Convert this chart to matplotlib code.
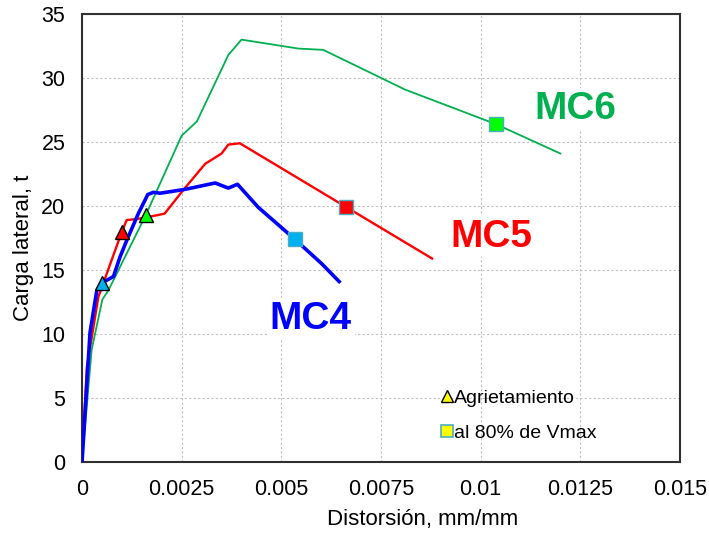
import matplotlib
matplotlib.use("Agg")
import matplotlib.pyplot as plt
from matplotlib.lines import Line2D

plt.rcParams["font.family"] = ["Liberation Sans", "DejaVu Sans"]

# Curvas carga lateral vs distorsion
mc4_x = [0, 0.0002, 0.00037, 0.0005, 0.00062, 0.00079, 0.00095, 0.00112, 0.00141, 0.00165,
         0.00179, 0.00196, 0.00258, 0.00334, 0.00367, 0.0039, 0.00442, 0.00534, 0.00601, 0.00645]
mc4_y = [0, 10.1, 13.4, 14.0, 14.2, 14.5, 16.0, 17.3, 19.4, 20.9,
         21.07, 21.0, 21.3, 21.8, 21.4, 21.7, 19.9, 17.4, 15.5, 14.1]

mc5_x = [0, 0.00012, 0.00041, 0.001, 0.00112, 0.00141, 0.00175, 0.00207, 0.00254, 0.00309,
         0.0035, 0.00367, 0.00396, 0.00661, 0.00878]
mc5_y = [0, 7.4, 12.9, 18.0, 18.9, 19.0, 19.2, 19.4, 21.25, 23.3,
         24.1, 24.8, 24.9, 19.95, 15.9]

mc6_x = [0, 0.00024, 0.00051, 0.00066, 0.0016, 0.0025, 0.00288, 0.00367, 0.004, 0.00543,
         0.00605, 0.0081, 0.01038, 0.012]
mc6_y = [0, 8.75, 12.7, 13.4, 19.3, 25.5, 26.6, 31.8, 33.0, 32.3,
         32.2, 29.1, 26.4, 24.1]

# Agrietamiento (triangulos) y 80% de Vmax (cuadrados)
crack_x = [0.0005, 0.001, 0.0016]
crack_y = [14.0, 18.0, 19.3]
v80_x = [0.00534, 0.00661, 0.01038]
v80_y = [17.4, 19.95, 26.4]

line_colors = ["#0000FF", "#FF0000", "#00B050"]
marker_colors = ["#00B0F0", "#FF0000", "#00FF00"]
labels = ["MC4", "MC5", "MC6"]
label_pos = [(0.00574, 11.2), (0.01028, 17.6), (0.01237, 27.6)]

fig = plt.figure(figsize=(7.09, 5.35), dpi=100)
ax = fig.add_axes([0.1157, 0.1364, 0.8434, 0.8374])

ax.plot(mc6_x, mc6_y, color=line_colors[2], lw=1.3, zorder=2)
ax.plot(mc5_x, mc5_y, color=line_colors[1], lw=1.7, zorder=3)
ax.plot(mc4_x, mc4_y, color=line_colors[0], lw=2.6, zorder=4)

for i in range(3):
    ax.plot(crack_x[i], crack_y[i], marker="^", ms=10, mfc=marker_colors[i],
            mec="black", mew=1.0, zorder=5)
    ax.plot(v80_x[i], v80_y[i], marker="s", ms=10, mfc=marker_colors[i],
            mec="#4BACC6", mew=1.0, zorder=5)
    ax.text(label_pos[i][0], label_pos[i][1], labels[i], color=line_colors[i],
            fontsize=28, fontweight="bold", ha="center", va="center", zorder=1.5,
            bbox=dict(facecolor="white", edgecolor="none", pad=2))

ax.set_xlim(0, 0.015)
ax.set_ylim(0, 35)
ax.set_xticks([0, 0.0025, 0.005, 0.0075, 0.01, 0.0125, 0.015])
ax.set_xticklabels(["0", "0.0025", "0.005", "0.0075", "0.01", "0.0125", "0.015"])
ax.set_yticks(range(0, 36, 5))
ax.tick_params(length=0, labelsize=15.5, pad=12)
ax.grid(True, color="#BFBFBF", ls=(0, (2, 2)), lw=0.8, zorder=0)
ax.set_axisbelow(True)
for s in ax.spines.values():
    s.set_linewidth(1.5)
    s.set_color("#303030")

ax.set_xlabel("Distorsión, mm/mm", fontsize=16, labelpad=8)
ax.set_ylabel("Carga lateral, t", fontsize=16, labelpad=5)
ax.xaxis.set_label_coords(0.570, -0.105)
ax.yaxis.label.set_y(0.478)

handles = [
    Line2D([], [], ls="none", marker="^", ms=8, mfc="#FFFF00", mec="black", mew=1.0),
    Line2D([], [], ls="none", marker="s", ms=8, mfc="#FFFF00", mec="#4BACC6", mew=1.2),
]
ax.legend(handles, ["Agrietamiento", "al 80% de Vmax"], loc="upper left",
          bbox_to_anchor=(0.619, 0.2725), bbox_transform=fig.transFigure,
          frameon=False, fontsize=14, borderpad=0, borderaxespad=0,
          handletextpad=0.0, handlelength=0.8, labelspacing=0.9)

fig.savefig("out.png", dpi=100)
